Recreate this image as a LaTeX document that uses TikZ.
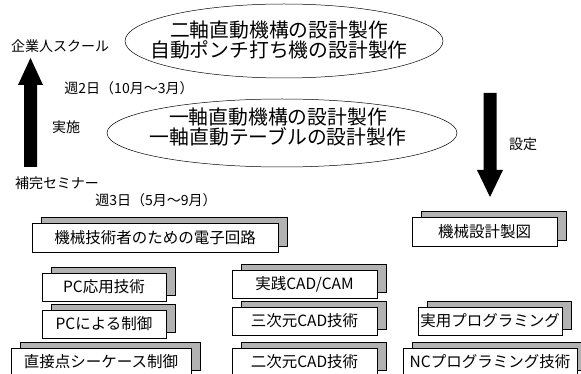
\documentclass[tikz,border=0pt]{standalone}
\usepackage{fontspec}
\setmainfont{Noto Sans CJK JP}
\usetikzlibrary{shadows}
\begin{document}
\begin{tikzpicture}[x=1pt,y=-1pt,
  lbl/.style={inner sep=0pt,font=\fontsize{14}{15}\selectfont},
  card/.style={draw,fill=white,line width=0.8pt,inner sep=0pt,minimum height=28pt,
    font=\fontsize{15.5}{17}\selectfont,
    drop shadow={shadow xshift=9pt,shadow yshift=6pt,fill=black!30,draw=black,line width=0.8pt,opacity=1}},
  blockarrow/.style={fill=black}]
\useasboundingbox (0,0) rectangle (581,374);
\clip (0,0) rectangle (581,374);
% ellipses
\draw[line width=0.5pt] (284,41) ellipse [x radius=159, y radius=37];
\node[inner sep=0pt,align=center,font=\fontsize{19.8}{20.5}\selectfont] (e1) at (279,40) {二軸直動機構の設計製作\\自動ポンチ打ち機の設計製作};
\draw[line width=0.5pt] (282,133) ellipse [x radius=175, y radius=34];
\node[inner sep=0pt,align=center,font=\fontsize{19.8}{20.5}\selectfont] (e2) at (278,127) {一軸直動機構の設計製作\\一軸直動テーブルの設計製作};
% labels
\node[lbl] (kigyo) at (60,46) {企業人スクール};
\node[lbl] (w2) at (129,88) {週2日（10月～3月）};
\node[lbl] (jissi) at (66,127) {実施};
\node[lbl] (hokan) at (57,183) {補完セミナー};
\node[lbl] (w3) at (156,200) {週3日（5月～9月）};
\node[lbl] (settei) at (523,144) {設定};
% block arrows
\fill[blockarrow] (24,167) -- (24,85) -- (18,85) -- (30.5,58) -- (43,85) -- (37,85) -- (37,167) -- cycle;
\fill[blockarrow] (483.5,93) -- (496.5,93) -- (496.5,170) -- (503,170) -- (490,197) -- (477,170) -- (483.5,170) -- cycle;
% cards
\node[card,minimum width=246pt,minimum height=29pt] (c1) at (155,237.5) {機械技術者のための電子回路};
\node[card,minimum width=124pt] (c2) at (104,287) {PC応用技術};
\node[card,minimum width=124pt] (c3) at (104,324) {PCによる制御};
\node[card,minimum width=180pt] (c4) at (101,362) {直接点シーケース制御};
\node[card,minimum width=145pt] (c5) at (304.5,284) {実践CAD/CAM};
\node[card,minimum width=145pt] (c6) at (304.5,321) {三次元CAD技術};
\node[card,minimum width=145pt] (c7) at (304.5,362) {二次元CAD技術};
\node[card,minimum width=145pt,minimum height=29pt] (c8) at (484.5,231.5) {機械設計製図};
\node[card,minimum width=144pt] (c9) at (490,321) {実用プログラミング};
\node[card,minimum width=174pt] (c10) at (490,362) {NCプログラミング技術};
\end{tikzpicture}
\end{document}
